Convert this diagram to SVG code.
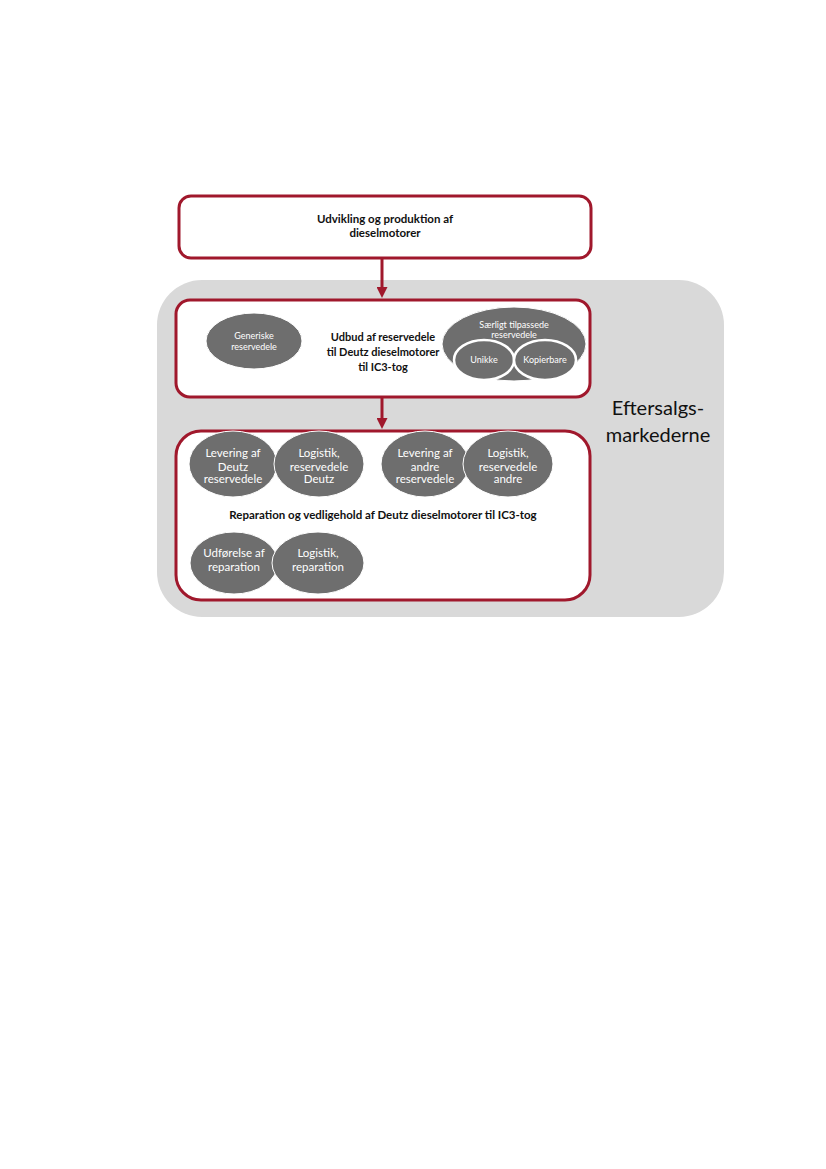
<svg xmlns="http://www.w3.org/2000/svg" width="826" height="1169" viewBox="0 0 826 1169">
<defs>
<style>
.box{fill:#fff;stroke:#a0182c;stroke-width:3}
.ell{fill:#6e6e6e;stroke:#fff;stroke-width:1}
.ring{fill:#6e6e6e;stroke:#fff;stroke-width:2.5}
.t{font-family:Lato,"Open Sans",sans-serif;text-anchor:middle}
.b{font-weight:bold;fill:#111;font-size:11.5px}
.bs{font-weight:bold;fill:#111;font-size:11px}
.w{fill:#fff;font-size:11.5px}
.ws{fill:#fff;font-size:9px}
.conn{stroke:#a0182c;stroke-width:3;fill:none}
</style>
<marker id="ah" markerWidth="11" markerHeight="11" refX="1" refY="5.5" orient="auto" markerUnits="userSpaceOnUse" viewBox="0 0 11 11">
<path d="M0,0 L11,5.5 L0,11 Z" fill="#a0182c"/>
</marker>
</defs>
<rect width="826" height="1169" fill="#fff"/>
<g id="marked">
<rect x="157" y="280" width="567" height="337" rx="45" fill="#d9d9d9"/>
<text class="t" x="658" y="415" font-size="20" fill="#111">Eftersalgs-</text>
<text class="t" x="658" y="442" font-size="20" fill="#111">markederne</text>
</g>
<g id="udvikling">
<rect class="box" x="179" y="196" width="412" height="62" rx="12"/>
<text class="t b" x="385" y="223">Udvikling og produktion af</text>
<text class="t b" x="385" y="237">dieselmotorer</text>
</g>
<g id="udbud">
<rect class="box" x="176" y="300" width="414" height="97" rx="14"/>
<text class="t bs" x="383" y="341">Udbud af reservedele</text>
<text class="t bs" x="383" y="356">til Deutz dieselmotorer</text>
<text class="t bs" x="383" y="371">til IC3-tog</text>
<g id="generiske">
<ellipse class="ell" cx="254" cy="341" rx="48" ry="28"/>
<text class="t ws" x="254" y="339">Generiske</text>
<text class="t ws" x="254" y="350">reservedele</text>
</g>
<g id="saerligt">
<ellipse class="ell" cx="514" cy="344" rx="72" ry="37"/>
<text class="t ws" x="514" y="328">Særligt tilpassede</text>
<text class="t ws" x="514" y="338">reservedele</text>
</g>
<g id="unikke">
<ellipse class="ring" cx="484" cy="360" rx="30" ry="20"/>
<text class="t ws" x="484" y="363">Unikke</text>
</g>
<g id="kopierbare">
<ellipse class="ring" cx="545" cy="360" rx="31" ry="20"/>
<text class="t ws" x="545" y="363">Kopierbare</text>
</g>
</g>
<g id="reparation">
<rect class="box" x="176" y="431" width="414" height="169" rx="25"/>
<text class="t b" x="383" y="519">Reparation og vedligehold af Deutz dieselmotorer til IC3-tog</text>
<g id="lev-deutz">
<ellipse class="ell" cx="233" cy="464" rx="44" ry="33"/>
<text class="t w" x="233" y="457">Levering af</text>
<text class="t w" x="233" y="471">Deutz</text>
<text class="t w" x="233" y="483">reservedele</text>
</g>
<g id="log-deutz">
<ellipse class="ell" cx="319" cy="464" rx="45" ry="33"/>
<text class="t w" x="319" y="457">Logistik,</text>
<text class="t w" x="319" y="471">reservedele</text>
<text class="t w" x="319" y="483">Deutz</text>
</g>
<g id="lev-andre">
<ellipse class="ell" cx="425" cy="464" rx="44" ry="33"/>
<text class="t w" x="425" y="457">Levering af</text>
<text class="t w" x="425" y="471">andre</text>
<text class="t w" x="425" y="483">reservedele</text>
</g>
<g id="log-andre">
<ellipse class="ell" cx="508" cy="464" rx="45" ry="33"/>
<text class="t w" x="508" y="457">Logistik,</text>
<text class="t w" x="508" y="471">reservedele</text>
<text class="t w" x="508" y="483">andre</text>
</g>
<g id="udforelse">
<ellipse class="ell" cx="234" cy="563" rx="44" ry="31"/>
<text class="t w" x="234" y="557">Udførelse af</text>
<text class="t w" x="234" y="571">reparation</text>
</g>
<g id="log-rep">
<ellipse class="ell" cx="318" cy="563" rx="46" ry="31"/>
<text class="t w" x="318" y="557">Logistik,</text>
<text class="t w" x="318" y="571">reparation</text>
</g>
</g>
<g id="connectors">
<line class="conn" x1="382" y1="258" x2="382" y2="288" marker-end="url(#ah)"/>
<line class="conn" x1="382" y1="397" x2="382" y2="419" marker-end="url(#ah)"/>
</g>
</svg>
